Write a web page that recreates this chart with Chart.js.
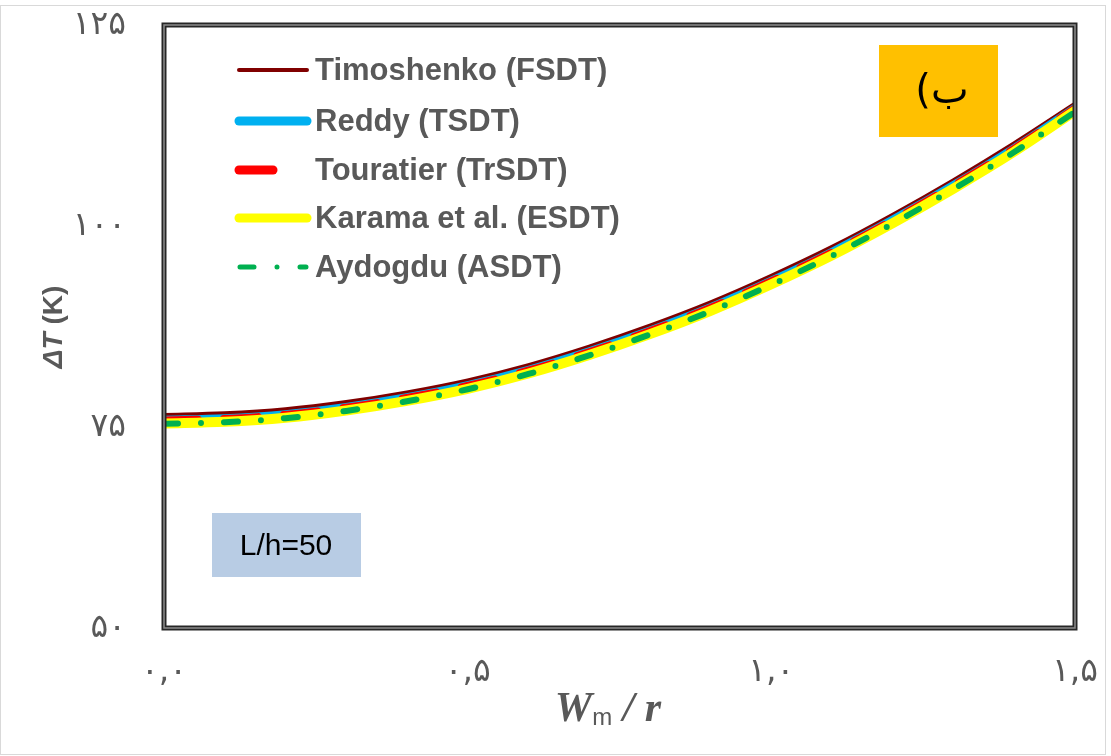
<!DOCTYPE html>
<html>
<head>
<meta charset="utf-8">
<script src="https://cdn.jsdelivr.net/npm/chart.js@4.4.1/dist/chart.umd.min.js"></script>
<style>
    html, body { margin: 0; padding: 0; background: #ffffff; }
    #wrap { width: 1111px; height: 756px; position: relative; }
</style>
</head>
<body>
<div id="wrap"><canvas id="chart" width="1111" height="756"></canvas></div>
<script>
// ==================== 데이터 ====================

const wmRatio = [0.0, 0.1, 0.2, 0.3, 0.4, 0.5, 0.6, 0.7, 0.8, 0.9, 1.0, 1.1, 1.2, 1.3, 1.4, 1.5];

const timoshenko = [76.5, 76.7, 77.2, 78.1, 79.3, 80.8, 82.7, 85.0, 87.6, 90.5, 93.8, 97.4, 101.4, 105.7, 110.3, 115.2];
const reddy      = [75.9, 76.1, 76.6, 77.5, 78.7, 80.2, 82.1, 84.4, 87.0, 89.9, 93.2, 96.8, 100.8, 105.1, 109.7, 114.7];
const touratier  = [75.8, 76.0, 76.5, 77.4, 78.6, 80.1, 82.0, 84.3, 86.9, 89.8, 93.1, 96.7, 100.7, 105.0, 109.6, 114.6];
const karama     = [75.45, 75.65, 76.15, 77.05, 78.25, 79.75, 81.65, 83.95, 86.55, 89.45, 92.75, 96.35, 100.35, 104.65, 109.25, 114.3];
const aydogdu    = [75.4, 75.6, 76.1, 77.0, 78.2, 79.7, 81.6, 83.9, 86.5, 89.4, 92.7, 96.3, 100.3, 104.6, 109.2, 114.2];

const seriesNames = ['Timoshenko (FSDT)', 'Reddy (TSDT)', 'Touratier (TrSDT)', 'Karama et al. (ESDT)', 'Aydogdu (ASDT)'];

const xTickValues = [0, 0.5, 1.0, 1.5];
const xTickLabels = ['۰,۰', '۰,۵', '۱,۰', '۱,۵'];
const yTickValues = [50, 75, 100, 125];
const yTickLabels = ['۵۰', '۷۵', '۱۰۰', '۱۲۵'];

const panelLabel = 'ب)';
const ratioLabel = 'L/h=50';

// ==================== 유틸 ====================

/**
 * x, y 배열을 {x, y} 포인트로 변환
 */
function toPoints(xs, ys) {
    return xs.map((x, i) => ({ x: x, y: ys[i] }));
}

/**
 * 틱 값에 해당하는 라벨 찾기
 */
function findLabel(values, labels, v) {
    const idx = values.findIndex(t => Math.abs(t - v) < 1e-6);
    return idx >= 0 ? labels[idx] : '';
}

const GREY_TEXT = '#595959';

// ==================== 데이터셋 ====================

const datasets = [
    { label: seriesNames[0], data: toPoints(wmRatio, timoshenko), borderColor: '#800000', borderWidth: 4, order: 5 },
    { label: seriesNames[1], data: toPoints(wmRatio, reddy), borderColor: '#00b0f0', borderWidth: 8, order: 4 },
    { label: seriesNames[2], data: toPoints(wmRatio, touratier), borderColor: '#ff0000', borderWidth: 8, borderDash: [34, 26], order: 3 },
    { label: seriesNames[3], data: toPoints(wmRatio, karama), borderColor: '#ffff00', borderWidth: 10, order: 2 },
    { label: seriesNames[4], data: toPoints(wmRatio, aydogdu), borderColor: '#00b050', borderWidth: 6, borderDash: [14, 23, 0, 23], order: 1 }
].map(ds => ({
    ...ds,
    fill: false,
    pointRadius: 0,
    cubicInterpolationMode: 'monotone',
    borderCapStyle: 'round',
    borderJoinStyle: 'round'
}));

// ==================== 플러그인: 프레임, 범례, 주석 ====================

const decorPlugin = {
    id: 'decor',
    afterDatasetsDraw(chart) {
        const ctx = chart.ctx;
        const a = chart.chartArea;
        ctx.save();
        // 이중선 프레임
        ctx.strokeStyle = '#262626';
        ctx.lineWidth = 5;
        ctx.strokeRect(a.left, a.top, a.right - a.left, a.bottom - a.top);
        ctx.strokeStyle = '#8c8c8c';
        ctx.lineWidth = 1.5;
        ctx.strokeRect(a.left, a.top, a.right - a.left, a.bottom - a.top);
        ctx.restore();
    },
    afterDraw(chart) {
        const ctx = chart.ctx;
        ctx.save();

        // 바깥 테두리
        ctx.strokeStyle = '#d9d9d9';
        ctx.lineWidth = 1;
        ctx.strokeRect(0.5, 5.5, 1105, 749);

        // 범례
        const rowY = [70, 121, 170, 218, 267];
        chart.data.datasets.forEach((ds, i) => {
            const y = rowY[i];
            ctx.save();
            ctx.strokeStyle = ds.borderColor;
            ctx.lineCap = 'round';
            if (i === 0) {
                ctx.lineWidth = 4;
                ctx.beginPath(); ctx.moveTo(239, y); ctx.lineTo(307, y); ctx.stroke();
            } else if (i === 2) {
                ctx.lineWidth = 9;
                ctx.beginPath(); ctx.moveTo(239, y); ctx.lineTo(273, y); ctx.stroke();
            } else if (i === 4) {
                ctx.lineWidth = 5;
                ctx.setLineDash([14, 23, 0, 23]);
                ctx.beginPath(); ctx.moveTo(240, y); ctx.lineTo(306, y); ctx.stroke();
            } else {
                ctx.lineWidth = 9;
                ctx.beginPath(); ctx.moveTo(239, y); ctx.lineTo(307, y); ctx.stroke();
            }
            ctx.restore();
            ctx.fillStyle = GREY_TEXT;
            ctx.font = 'bold 31px "Liberation Sans", Arial, sans-serif';
            ctx.textBaseline = 'middle';
            ctx.textAlign = 'left';
            ctx.fillText(ds.label, 315, y + 1);
        });

        // (ب) 상자
        ctx.fillStyle = '#ffc000';
        ctx.fillRect(879, 45, 119, 92);
        ctx.fillStyle = '#000000';
        ctx.font = '40px "DejaVu Sans", sans-serif';
        ctx.direction = 'rtl';
        ctx.textAlign = 'center';
        ctx.textBaseline = 'middle';
        ctx.fillText(panelLabel, 942, 93);
        ctx.direction = 'ltr';

        // L/h 상자
        ctx.fillStyle = '#b8cce4';
        ctx.fillRect(212, 513, 149, 64);
        ctx.fillStyle = '#000000';
        ctx.font = '30px "Liberation Sans", Arial, sans-serif';
        ctx.fillText(ratioLabel, 286, 547);

        // y축 제목 ΔT (K)
        ctx.save();
        ctx.translate(54, 327);
        ctx.rotate(-Math.PI / 2);
        ctx.fillStyle = GREY_TEXT;
        ctx.textBaseline = 'middle';
        ctx.textAlign = 'left';
        const f1 = 'italic bold 28px "Liberation Sans", Arial, sans-serif';
        const f2 = 'bold 28px "Liberation Sans", Arial, sans-serif';
        ctx.font = f1;
        const w1 = ctx.measureText('ΔT').width;
        ctx.font = f2;
        const w2 = ctx.measureText(' (K)').width;
        let sx = -(w1 + w2) / 2;
        ctx.font = f1;
        ctx.fillText('ΔT', sx, 0);
        ctx.font = f2;
        ctx.fillText(' (K)', sx + w1, 0);
        ctx.restore();

        // x축 제목 Wm / r
        const fW = 'italic bold 42px "Liberation Serif", serif';
        const fm = '24px "Liberation Sans", Arial, sans-serif';
        ctx.textAlign = 'left';
        ctx.textBaseline = 'alphabetic';
        ctx.fillStyle = GREY_TEXT;
        ctx.font = fW;
        const wW = ctx.measureText('W').width;
        const wR = ctx.measureText(' / r').width;
        ctx.font = fm;
        const wm = ctx.measureText('m').width;
        let tx = 608 - (wW + wm + wR) / 2;
        const base = 721;
        ctx.font = fW;
        ctx.fillText('W', tx, base);
        ctx.font = fm;
        ctx.fillText('m', tx + wW, base + 4);
        ctx.font = fW;
        ctx.fillText(' / r', tx + wW + wm, base);

        ctx.restore();
    }
};

// ==================== 차트 생성 ====================

const chart = new Chart(document.getElementById('chart'), {
    type: 'line',
    data: { datasets: datasets },
    options: {
        responsive: false,
        devicePixelRatio: 1,
        animation: false,
        layout: { padding: { left: 0, top: 25, right: 36, bottom: 0 } },
        plugins: {
            legend: { display: false },
            tooltip: { enabled: false }
        },
        scales: {
            x: {
                type: 'linear',
                min: 0,
                max: 1.5,
                afterBuildTicks: scale => { scale.ticks = xTickValues.map(v => ({ value: v })); },
                afterFit: scale => {
                    scale.height = 128;
                    scale.paddingLeft = 0;
                    scale.paddingRight = 0;
                },
                ticks: {
                    color: GREY_TEXT,
                    font: { family: '"DejaVu Sans", sans-serif', size: 33 },
                    padding: 25,
                    maxRotation: 0,
                    callback: v => findLabel(xTickValues, xTickLabels, v)
                },
                grid: { display: false, drawTicks: false },
                border: { display: false }
            },
            y: {
                min: 50,
                max: 125,
                afterBuildTicks: scale => { scale.ticks = yTickValues.map(v => ({ value: v })); },
                afterFit: scale => {
                    scale.width = 164;
                    scale.paddingTop = 0;
                    scale.paddingBottom = 0;
                },
                ticks: {
                    color: GREY_TEXT,
                    font: { family: '"DejaVu Sans", sans-serif', size: 33 },
                    padding: 38,
                    callback: v => findLabel(yTickValues, yTickLabels, v)
                },
                grid: { display: false, drawTicks: false },
                border: { display: false }
            }
        }
    },
    plugins: [decorPlugin]
});
</script>
</body>
</html>
